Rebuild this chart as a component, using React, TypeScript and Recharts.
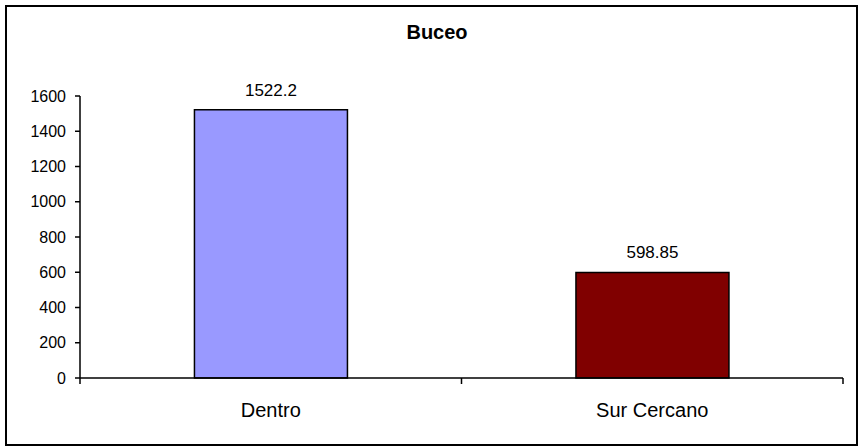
import React from 'react';
import { BarChart, Bar, XAxis, YAxis, Cell, LabelList } from 'recharts';

const categories = ['Dentro', 'Sur Cercano'];
const values = [1522.2, 598.85];
const barColors = ['#9999FF', '#800000'];
const yTicks = [0, 200, 400, 600, 800, 1000, 1200, 1400, 1600];

const data = categories.map((name, i) => ({ name, value: values[i] }));

const W = 860;
const H = 448;
const MARGIN = { top: 96, right: 17, bottom: 40, left: 0 };
const Y_AXIS_W = 80;
const PLOT_W = W - MARGIN.left - MARGIN.right - Y_AXIS_W;
const FONT = '"Liberation Sans", Arial, sans-serif';

// category label at band centre, tick marks at band edges (like Excel)
const CategoryTick = (props: any) => {
  const { x, y, payload, index } = props;
  const band = PLOT_W / categories.length;
  const left = x - band / 2;
  const right = x + band / 2;
  return (
    <g>
      <line x1={left} y1={y - 25} x2={left} y2={y - 19} stroke="#000" strokeWidth={1.5} />
      {index === categories.length - 1 && (
        <line x1={right} y1={y - 25} x2={right} y2={y - 19} stroke="#000" strokeWidth={1.5} />
      )}
      <text x={x} y={y} dy="0.71em" textAnchor="middle" fill="#000" fontSize={20} fontFamily={FONT}>
        {payload.value}
      </text>
    </g>
  );
};

const App: React.FC = () => {
  return (
    <div style={{ position: 'absolute', left: 0, top: 0, width: W, height: H, background: '#fff' }}>
      <div
        style={{
          position: 'absolute',
          left: 5,
          top: 5,
          width: 853,
          height: 441,
          border: '2px solid #000',
          boxSizing: 'border-box',
        }}
      />
      <div
        style={{
          position: 'absolute',
          left: 337,
          top: 22,
          width: 200,
          textAlign: 'center',
          fontFamily: FONT,
          fontWeight: 'bold',
          fontSize: 20,
          lineHeight: '20px',
          color: '#000',
        }}
      >
        Buceo
      </div>
      <div style={{ position: 'absolute', left: 0, top: 0 }}>
        <BarChart width={W} height={H} data={data} margin={MARGIN} barCategoryGap="30%">
          <XAxis
            dataKey="name"
            height={30}
            tickLine={false}
            tickSize={0}
            tickMargin={25}
            axisLine={{ stroke: '#000', strokeWidth: 1.5 }}
            tick={<CategoryTick />}
            interval={0}
          />
          <YAxis
            width={Y_AXIS_W}
            domain={[0, 1600]}
            ticks={yTicks}
            interval={0}
            tickSize={5}
            tickMargin={9}
            axisLine={{ stroke: '#000', strokeWidth: 1.5 }}
            tickLine={{ stroke: '#000', strokeWidth: 1.5 }}
            tick={{ fill: '#000', fontSize: 16, fontFamily: FONT }}
          />
          <Bar dataKey="value" stroke="#000" strokeWidth={1.5} isAnimationActive={false}>
            {data.map((d, i) => (
              <Cell key={d.name} fill={barColors[i]} />
            ))}
            <LabelList
              dataKey="value"
              position="top"
              offset={14}
              fill="#000"
              fontSize={17}
              fontFamily={FONT}
            />
          </Bar>
        </BarChart>
      </div>
    </div>
  );
};

export default App;
